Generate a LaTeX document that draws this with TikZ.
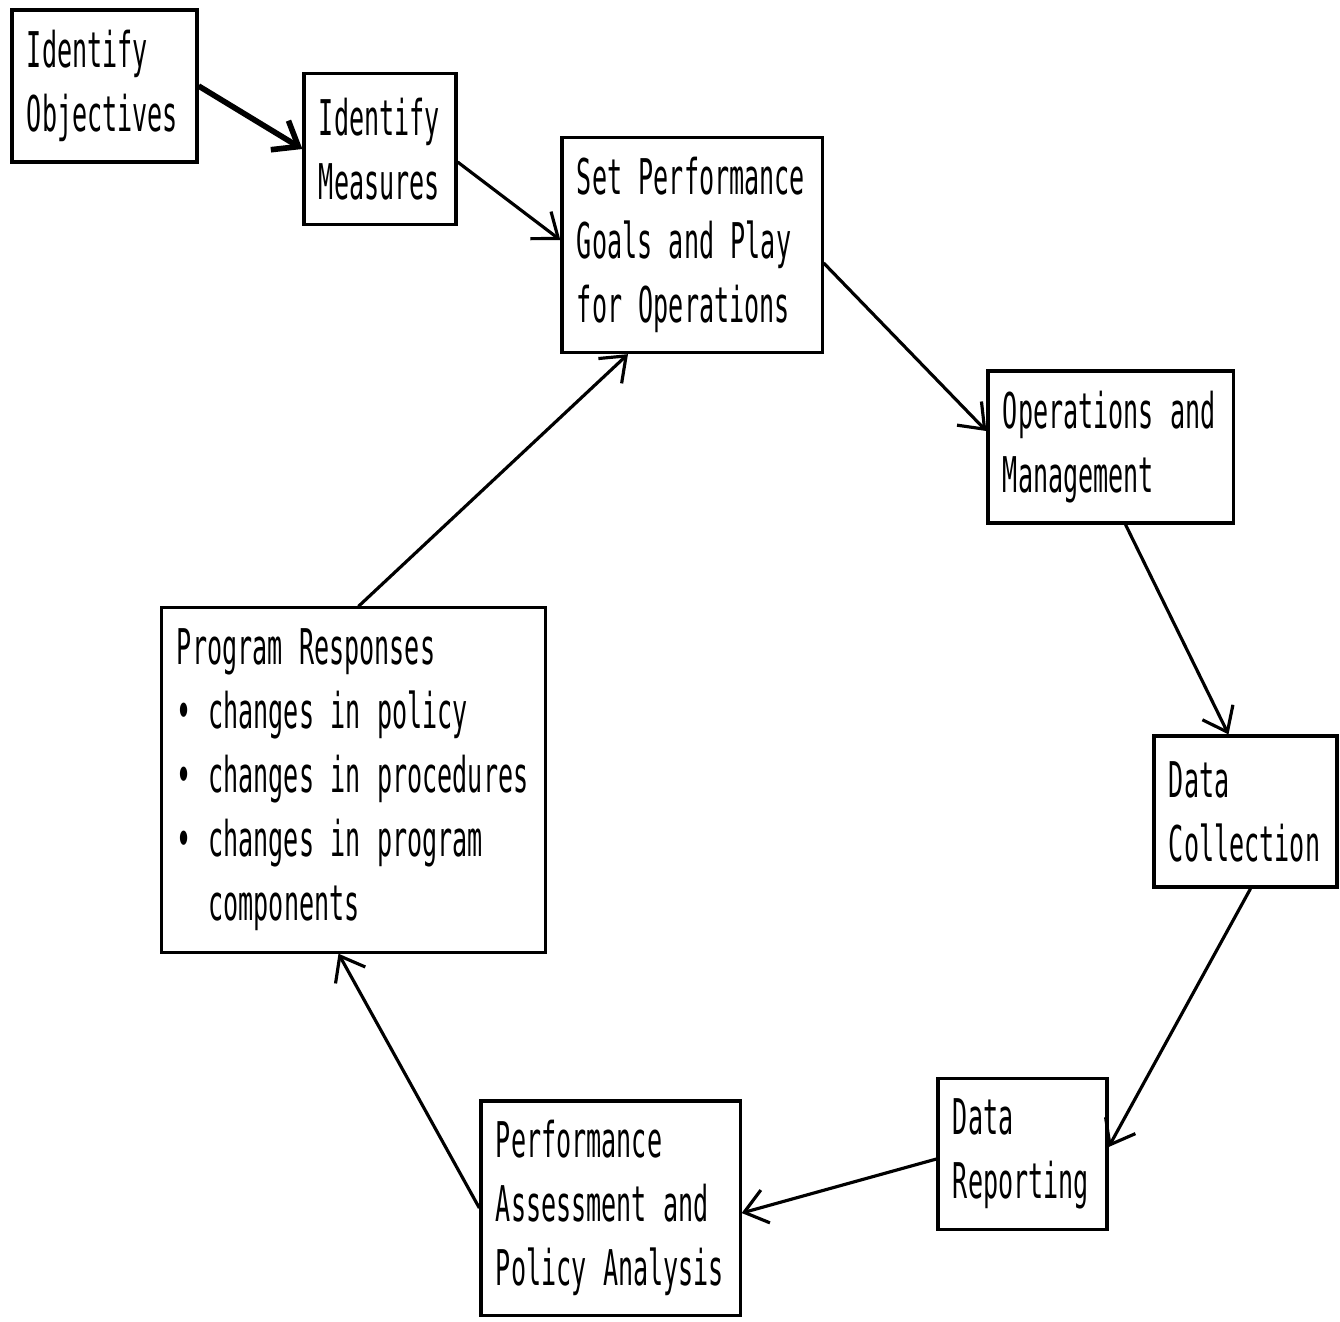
\documentclass[tikz,border=0pt]{standalone}
\usepackage{fontspec}
\setmonofont{DejaVu Sans Mono}[FakeStretch=0.51]
\usepackage{tikz}
\usetikzlibrary{positioning,calc,arrows.meta}

\tikzset{
    stepbox/.style={draw, line width=0.9pt, rectangle, align=left, inner xsep=0.15cm,
        font=\ttfamily\fontsize{14}{18.2}\selectfont},
    arr/.style={->, >={Straight Barb[length=2.2mm,width=3.4mm]}, line width=0.9pt}
}

\begin{document}
\begin{tikzpicture}[x=0.01cm, y=-0.01cm]
    \useasboundingbox (0,0) rectangle (1340,1321);

    % Top row of the cycle
    \node[stepbox, minimum width=1.85cm, minimum height=1.52cm, text width=1.55cm] (obj) at (104.5,86) {Identify\\Objectives};
    \node[stepbox, minimum width=1.52cm, minimum height=1.51cm, text width=1.22cm] (meas) at (380,149) {Identify\\Measures};
    \node[stepbox, minimum width=2.60cm, minimum height=2.15cm, text width=2.30cm] (goals) at (692,245) {Set Performance\\Goals and Play\\for Operations};
    \node[stepbox, minimum width=2.45cm, minimum height=1.52cm, text width=2.15cm] (ops) at (1110.5,447) {Operations and\\Management};

    % Right and bottom
    \node[stepbox, minimum width=1.83cm, minimum height=1.51cm, text width=1.53cm] (coll) at (1245.5,811.5) {Data\\Collection};
    \node[stepbox, minimum width=1.69cm, minimum height=1.51cm, text width=1.39cm] (rep) at (1022.5,1154) {Data\\Reporting};
    \node[stepbox, minimum width=2.59cm, minimum height=2.14cm, text width=2.29cm] (assess) at (610.5,1208) {Performance\\Assessment and\\Policy Analysis};

    % Responses
    \node[stepbox, minimum width=3.83cm, minimum height=3.44cm, text width=3.53cm] (resp) at (353.5,780)
        {Program Responses\\
         • changes in policy\\
         • changes in procedures\\
         • changes in program\\
         \phantom{• }components};

    % Connectors
    \draw[arr, line width=1.6pt] (obj.east) -- (meas.west);
    \draw[arr] ([yshift=-0.13cm]meas.east) -- ([yshift=0.05cm]goals.west);
    \draw[arr] ([yshift=-0.18cm]goals.east) -- ([yshift=0.16cm]ops.west);
    \draw[arr] ([xshift=0.15cm]ops.south) -- ([xshift=-0.17cm]coll.north);
    \draw[arr] ([xshift=0.05cm]coll.south) -- ([yshift=0.07cm]rep.east);
    \draw[arr] ([yshift=-0.05cm]rep.west) -- ([yshift=-0.05cm]assess.east);
    \draw[arr] (assess.west) -- ([xshift=-0.15cm]resp.south);
    \draw[arr] ([xshift=0.05cm]resp.north) -- ([xshift=-0.64cm]goals.south);
\end{tikzpicture}
\end{document}
